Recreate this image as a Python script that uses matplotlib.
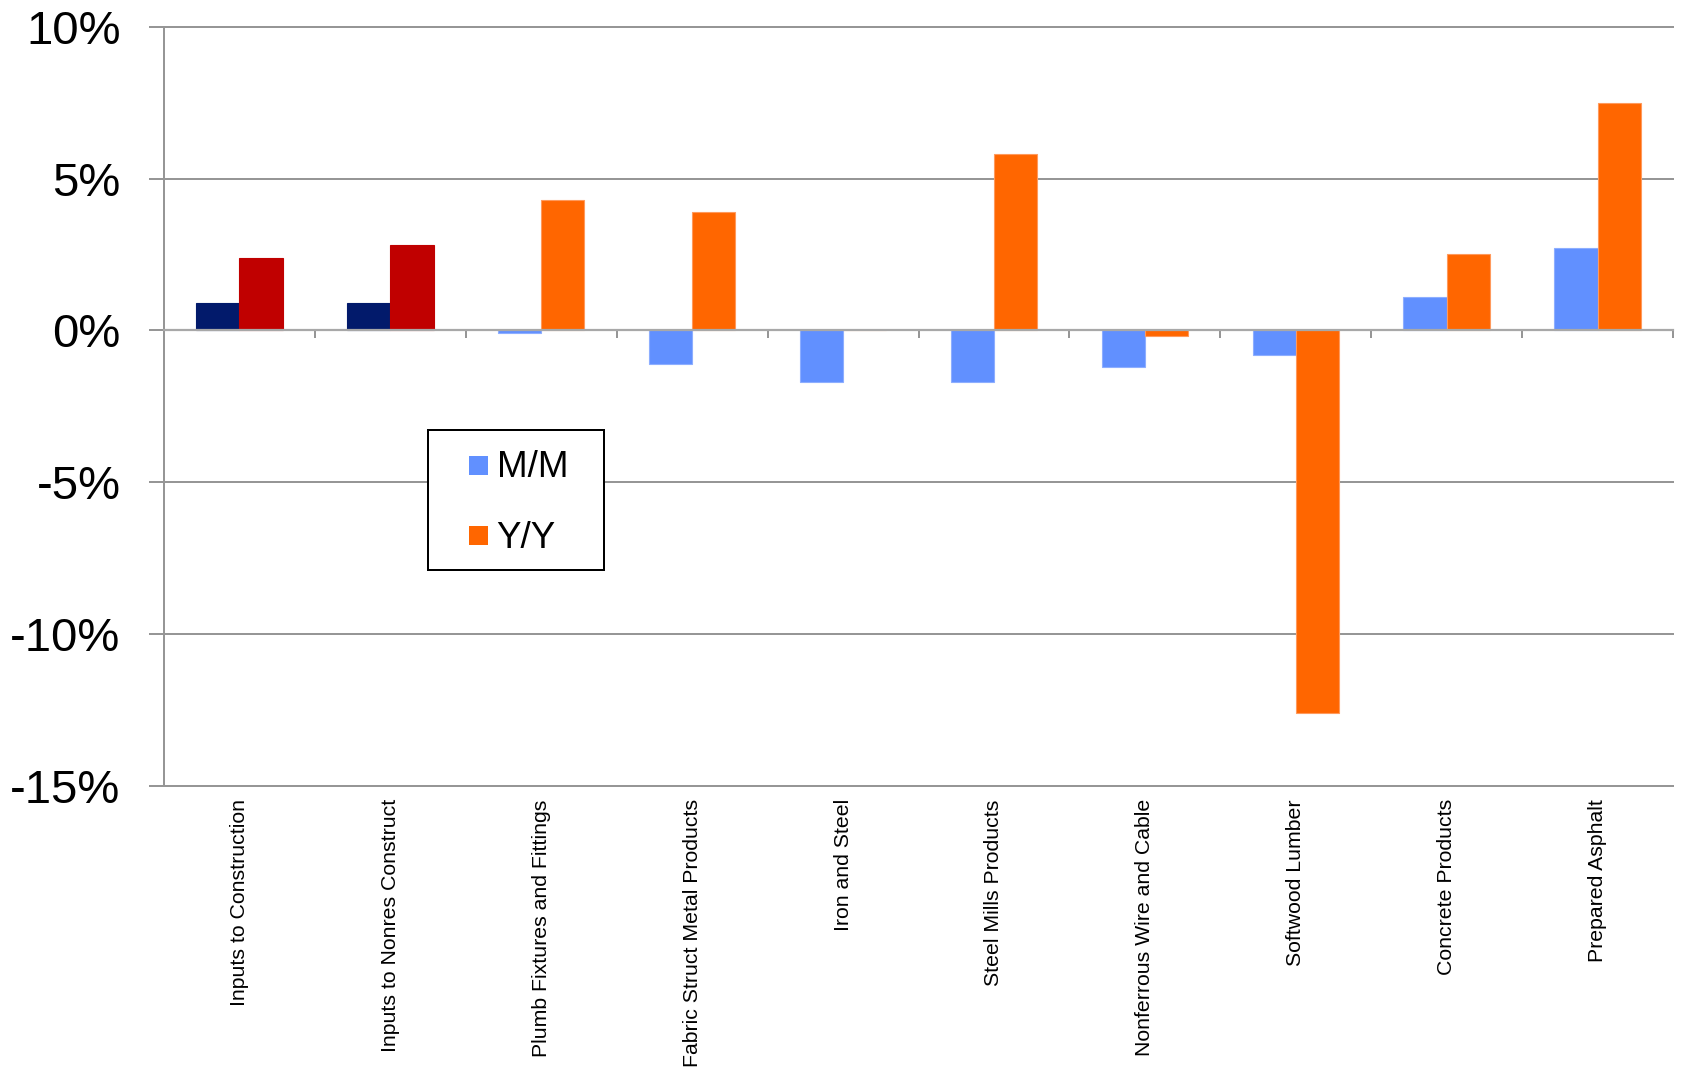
import matplotlib
matplotlib.use("Agg")
import matplotlib.pyplot as plt
from matplotlib.patches import Rectangle
import numpy as np

plt.rcParams['font.family'] = ['Liberation Sans', 'DejaVu Sans']

categories = [
    "Inputs to Construction",
    "Inputs to Nonres Construct",
    "Plumb Fixtures and Fittings",
    "Fabric Struct Metal Products",
    "Iron and Steel",
    "Steel Mills Products",
    "Nonferrous Wire and Cable",
    "Softwood Lumber",
    "Concrete Products",
    "Prepared Asphalt",
]
mm_values = [0.9, 0.9, -0.1, -1.1, -1.7, -1.7, -1.2, -0.8, 1.1, 2.7]
yy_values = [2.4, 2.8, 4.3, 3.9, 0.0, 5.8, -0.2, -12.6, 2.5, 7.5]
series_labels = ["M/M", "Y/Y"]
y_ticks = [-15, -10, -5, 0, 5, 10]

# aggregate groups are highlighted in darker colours
mm_colors = ["#021A6B", "#021A6B"] + ["#6190FF"] * 8
yy_colors = ["#C00000", "#C00000"] + ["#FF6600"] * 8
mm_edges = ["#021A6B", "#021A6B"] + ["#8DAEFF"] * 8
yy_edges = ["#C00000", "#C00000"] + ["#FF9A5C"] * 8

GRID = "#969696"
W, H = 1682, 1068

fig = plt.figure(figsize=(W / 100, H / 100), dpi=100)
ax_l, ax_r, ax_t, ax_b = 164, 1673, 26.7, 786
ax = fig.add_axes([ax_l / W, 1 - ax_b / H, (ax_r - ax_l) / W, (ax_b - ax_t) / H])

x = np.arange(len(categories))
bw = 0.286
ax.bar(x - bw / 2, mm_values, width=bw, color=mm_colors, edgecolor=mm_edges,
       linewidth=0.8, label=series_labels[0], zorder=2)
ax.bar(x + bw / 2, yy_values, width=bw, color=yy_colors, edgecolor=yy_edges,
       linewidth=0.8, label=series_labels[1], zorder=2)

ax.set_xlim(-0.5, len(categories) - 0.5)
ax.set_ylim(-15, 10)

# horizontal gridlines, with outward tick stubs on the left
ax.set_yticks(y_ticks)
ax.set_yticklabels([f"{v}%" for v in y_ticks], fontsize=34)
ax.tick_params(axis='y', direction='out', length=10.8, width=1.44,
               color=GRID, pad=20.5)
ax.yaxis.grid(True, color=GRID, linewidth=1.44)
for gl in ax.get_ygridlines():
    gl.set_clip_on(False)
ax.set_axisbelow(True)

for side in ("top", "right"):
    ax.spines[side].set_visible(False)
ax.spines["left"].set_color(GRID)
ax.spines["left"].set_linewidth(1.44)
ax.spines["bottom"].set_position(("data", 0))
ax.spines["bottom"].set_color("#A8A8A8")
ax.spines["bottom"].set_linewidth(1.6)
ax.spines["bottom"].set_zorder(3)

# category separators hang from the zero line
ax.set_xticks(np.arange(len(categories) + 1) - 0.5)
ax.set_xticklabels([])
ax.tick_params(axis='x', direction='out', length=5.5, width=1.44, color=GRID)

# category names along the bottom edge
sec = ax.secondary_xaxis(0.0)
sec.set_xticks(x)
sec.set_xticklabels(categories, rotation=90, fontsize=15.3)
sec.tick_params(length=0, pad=9.5)
sec.spines["bottom"].set_visible(False)

# legend box
def ax_x(px):
    return (px - ax_l) / (ax_r - ax_l)

def ax_y(py):
    return (ax_b - py) / (ax_b - ax_t)

frame = Rectangle((ax_x(427.7), ax_y(570)), ax_x(604) - ax_x(427.7),
                  ax_y(430) - ax_y(570), transform=ax.transAxes,
                  facecolor="white", edgecolor="black", linewidth=1.44,
                  zorder=5, clip_on=False)
ax.add_patch(frame)
sq = 19
for label, color, cy, base in [(series_labels[0], "#6190FF", 465, 476.7),
                               (series_labels[1], "#FF6600", 535, 548.3)]:
    ax.add_patch(Rectangle((ax_x(469), ax_y(cy + sq / 2)),
                           ax_x(469 + sq) - ax_x(469),
                           ax_y(cy - sq / 2) - ax_y(cy + sq / 2),
                           transform=ax.transAxes, facecolor=color,
                           edgecolor="none", zorder=6, clip_on=False))
    ax.text(ax_x(496.7), ax_y(base), label, transform=ax.transAxes,
            fontsize=26.5, ha="left", va="baseline", zorder=6)

fig.savefig("out.png", dpi=100, facecolor="white")
